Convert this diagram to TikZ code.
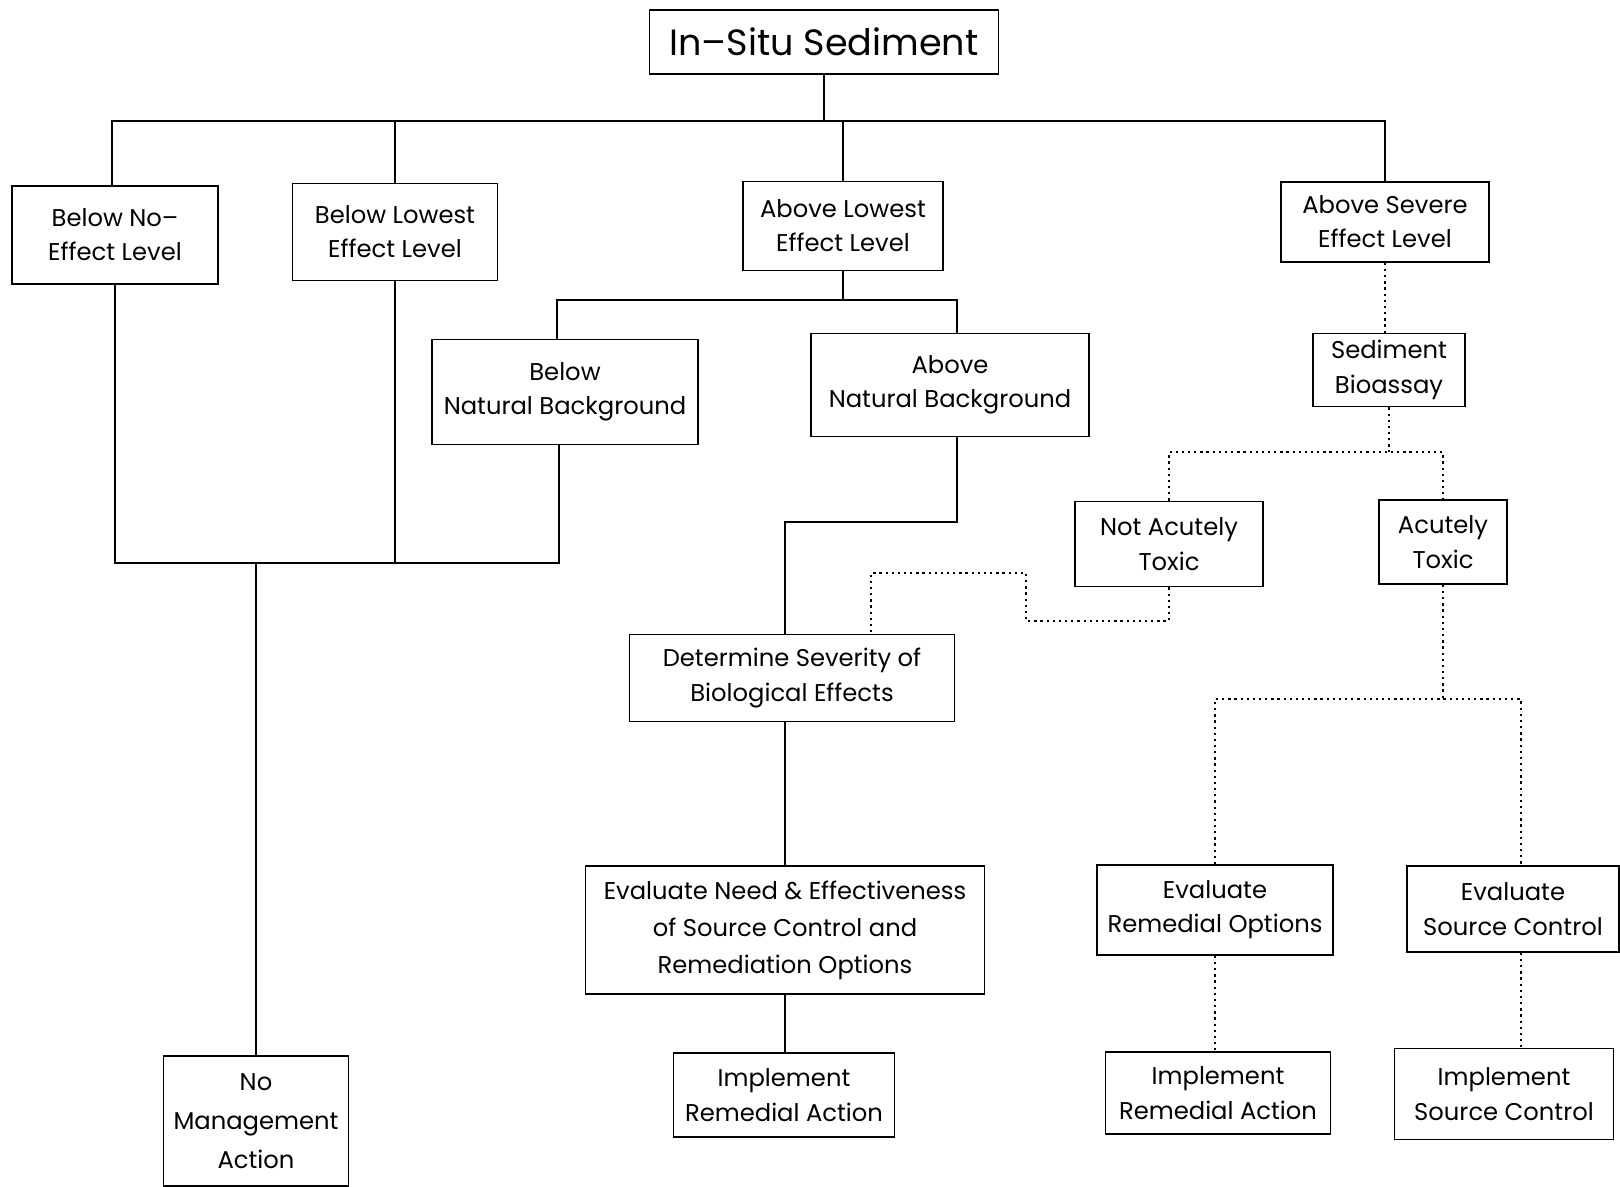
\documentclass[tikz,border=0pt]{standalone}
\usepackage{fontspec}
\setmainfont{Poppins}
\usepackage{tikz}
\usetikzlibrary{positioning, calc}

\tikzset{
	blk/.style 2 args={draw, line width=1pt, align=center, inner sep=0pt,
		minimum width=#1*0.02cm, minimum height=#2*0.02cm,
		font=\fontsize{13.8}{19.5}\selectfont},
	lnk/.style={line width=0.9pt},
	dlnk/.style={line width=1.3pt, dash pattern=on 1.3pt off 2.2pt}
}

\begin{document}
\begin{tikzpicture}[x=0.02cm, y=-0.02cm]
				\useasboundingbox (0,0) rectangle (1620,1187);
				\node[blk={349}{64}, font=\fontsize{20.8}{25}\selectfont] (top) at (824,42) {In--Situ Sediment};
				
				\node[blk={206}{98}] (bnel) at (115,235) {Below No--\\Effect Level};
				\node[blk={205}{97}] (blel) at (395,232) {Below Lowest\\Effect Level};
				\node[blk={200}{89}] (alel) at (843,226) {Above Lowest\\Effect Level};
				\node[blk={208}{80}] (asel) at (1385,222) {Above Severe\\Effect Level};
				
				\node[blk={266}{105}] (bnb) at (565,392) {Below\\Natural Background};
				\node[blk={278}{103}] (anb) at (950,385) {Above\\Natural Background};
				\node[blk={152}{73}] (bio) at (1389,370) {Sediment\\Bioassay};
				\node[blk={188}{85}] (nat) at (1169,544) {Not Acutely\\Toxic};
				\node[blk={128}{84}] (act) at (1443,542) {Acutely\\Toxic};
				
				\node[blk={325}{87}] (sev) at (792,678) {Determine Severity of\\Biological Effects};
				\node[blk={399}{128}, font=\fontsize{13.8}{21}\selectfont] (need) at (785,930) {Evaluate Need \& Effectiveness\\of Source Control and\\Remediation Options};
				\node[blk={221}{84}] (irac) at (784,1095) {Implement\\Remedial Action};
				\node[blk={185}{130}, font=\fontsize{13.8}{22}\selectfont] (nma) at (256,1121) {No\\Management\\Action};
				
				\node[blk={236}{90}] (ero) at (1215,910) {Evaluate\\Remedial Options};
				\node[blk={212}{86}] (esc) at (1513,909) {Evaluate\\Source Control};
				\node[blk={225}{82}] (irar) at (1218,1093) {Implement\\Remedial Action};
				\node[blk={219}{91}] (isc) at (1504,1094) {Implement\\Source Control};
				
				\coordinate (bar) at (816,121);
				\coordinate (split) at (850,300);
				\coordinate (merge) at (257,563);
				\coordinate (turn) at (785,522);
				\coordinate (tox) at (1392,452);
				\coordinate (back) at (1026,621);
				\coordinate (over) at (871,573);
				\coordinate (opt) at (1444,699);
				
				\draw[lnk] (top.south) -- (top.south |- bar);
				\draw[lnk] ([xshift=-1.7pt]bnel.north) |- (bar) -| (asel.north);
				\draw[lnk] (blel.north) -- (blel.north |- bar);
				\draw[lnk] (alel.north) -- (alel.north |- bar);
				\draw[lnk] (alel.south) -- (alel.south |- split);
				\draw[lnk] ([xshift=-4.5pt]bnb.north) |- (split) -| ([xshift=4pt]anb.north);
				\draw[lnk] (bnel.south) |- (merge) -| ([xshift=-3.4pt]bnb.south);
				\draw[lnk] (blel.south) -- (blel.south |- merge);
				\draw[lnk] (nma.north) -- (nma.north |- merge);
				\draw[lnk] ([xshift=4pt]anb.south) |- (turn) -- (turn |- sev.north);
				\draw[lnk] (need.north |- sev.south) -- (need.north);
				\draw[lnk] (need.south) -- (need.south |- irac.north);
				
				\draw[dlnk] (asel.south) -- (asel.south |- bio.north);
				\draw[dlnk] (bio.south) -- (bio.south |- tox);
				\draw[dlnk] (nat.north) |- (tox) -| (act.north);
				\draw[dlnk] (nat.south) |- (back) |- (over) -- (over |- sev.north);
				\draw[dlnk] (act.south) -- (act.south |- opt);
				\draw[dlnk] (ero.north) |- (opt) -| ([xshift=4.5pt]esc.north);
				\draw[dlnk] (ero.south) -- (ero.south |- irar.north);
				\draw[dlnk] ([xshift=4.5pt]esc.south) -- ([xshift=4.5pt]esc.south |- isc.north);
\end{tikzpicture}
\end{document}
